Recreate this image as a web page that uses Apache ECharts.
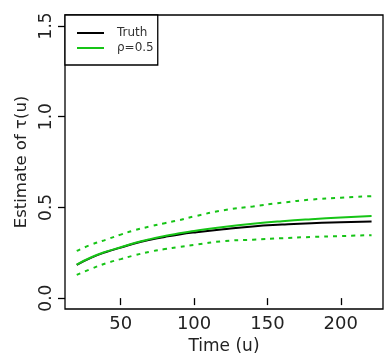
<!DOCTYPE html>
<html>
<head>
<meta charset="utf-8">
<script src="https://cdn.jsdelivr.net/npm/echarts@6/dist/echarts.min.js"></script>
<style>
  html, body { margin: 0; padding: 0; background: #fff; }
  #chart { width: 385px; height: 361px; }
</style>
</head>
<body>
<div id="chart"></div>
<script>
// time points (u)
const times = [20, 30, 40, 50, 60, 70, 80, 90, 100, 120, 140, 160, 180, 200, 221]
// true tau(u)
const truth = [0.183, 0.223, 0.254, 0.278, 0.302, 0.321, 0.337, 0.351, 0.362, 0.380, 0.395, 0.405, 0.413, 0.418, 0.422]
// estimate for rho = 0.5 and its band
const estimate = [0.185, 0.225, 0.256, 0.280, 0.305, 0.325, 0.342, 0.358, 0.370, 0.392, 0.410, 0.424, 0.435, 0.444, 0.452]
const upper = [0.260, 0.295, 0.322, 0.350, 0.375, 0.395, 0.413, 0.430, 0.450, 0.484, 0.505, 0.526, 0.543, 0.553, 0.562]
const lower = [0.128, 0.162, 0.192, 0.215, 0.237, 0.256, 0.270, 0.282, 0.293, 0.314, 0.322, 0.330, 0.337, 0.342, 0.347]

const xTicks = [50, 100, 150, 200]
const yTicks = [0, 0.5, 1.0, 1.5]

const green = '#16c416'
const font = 'DejaVu Sans, sans-serif'

const pairs = (ys) => times.map((t, i) => [t, ys[i]])

const chart = echarts.init(document.getElementById('chart'), null, { renderer: 'canvas' })

const option = {
    animation: false,
    backgroundColor: '#fff',
    grid: {
        left: 65, top: 15, right: 2, bottom: 52,
        show: true, borderColor: '#000', borderWidth: 1.3, backgroundColor: 'transparent'
    },
    legend: {
        left: 65, top: 15,
        orient: 'vertical',
        data: ['Truth', 'ρ=0.5'],
        icon: 'rect',
        itemWidth: 27, itemHeight: 2,
        itemGap: 3,
        padding: [12, 4, 11, 12],
        borderColor: '#000', borderWidth: 1.3, borderRadius: 0,
        backgroundColor: '#fff',
        textStyle: { fontFamily: font, fontSize: 12, color: '#333', padding: [0, 0, 0, 8] }
    },
    xAxis: {
        type: 'value',
        min: 12, max: 228.8,
        name: 'Time (u)',
        nameLocation: 'middle',
        nameGap: 28,
        nameTextStyle: { fontFamily: font, fontSize: 17, color: '#222' },
        axisLine: { show: false },
        splitLine: { show: false },
        axisTick: { show: true, length: 7, customValues: xTicks, lineStyle: { color: '#000', width: 1.3 } },
        axisLabel: { customValues: xTicks, margin: 6, fontFamily: font, fontSize: 18, color: '#222' }
    },
    yAxis: {
        type: 'value',
        min: -0.06, max: 1.56,
        name: 'Estimate of τ(u)',
        nameLocation: 'middle',
        nameGap: 32,
        nameTextStyle: { fontFamily: font, fontSize: 16.5, color: '#222' },
        axisLine: { show: false },
        splitLine: { show: false },
        axisTick: { show: true, length: 7, customValues: yTicks, lineStyle: { color: '#000', width: 1.3 } },
        axisLabel: {
            customValues: yTicks, rotate: 90, margin: 10,
            fontFamily: font, fontSize: 17, color: '#222',
            formatter: v => v.toFixed(1)
        }
    },
    series: [
        {
            name: 'Truth', type: 'line', data: pairs(truth), smooth: true,
            showSymbol: false, symbol: 'none', z: 3,
            lineStyle: { color: '#000', width: 2 }, itemStyle: { color: '#000' }
        },
        {
            name: 'ρ=0.5', type: 'line', data: pairs(estimate), smooth: true,
            showSymbol: false, symbol: 'none', z: 4,
            lineStyle: { color: green, width: 2 }, itemStyle: { color: green }
        },
        {
            name: 'upper', type: 'line', data: pairs(upper), smooth: true,
            showSymbol: false, symbol: 'none',
            lineStyle: { color: green, width: 2, type: [4, 5] }
        },
        {
            name: 'lower', type: 'line', data: pairs(lower), smooth: true,
            showSymbol: false, symbol: 'none',
            lineStyle: { color: green, width: 2, type: [4, 5] }
        }
    ]
}

chart.setOption(option)
</script>
</body>
</html>
